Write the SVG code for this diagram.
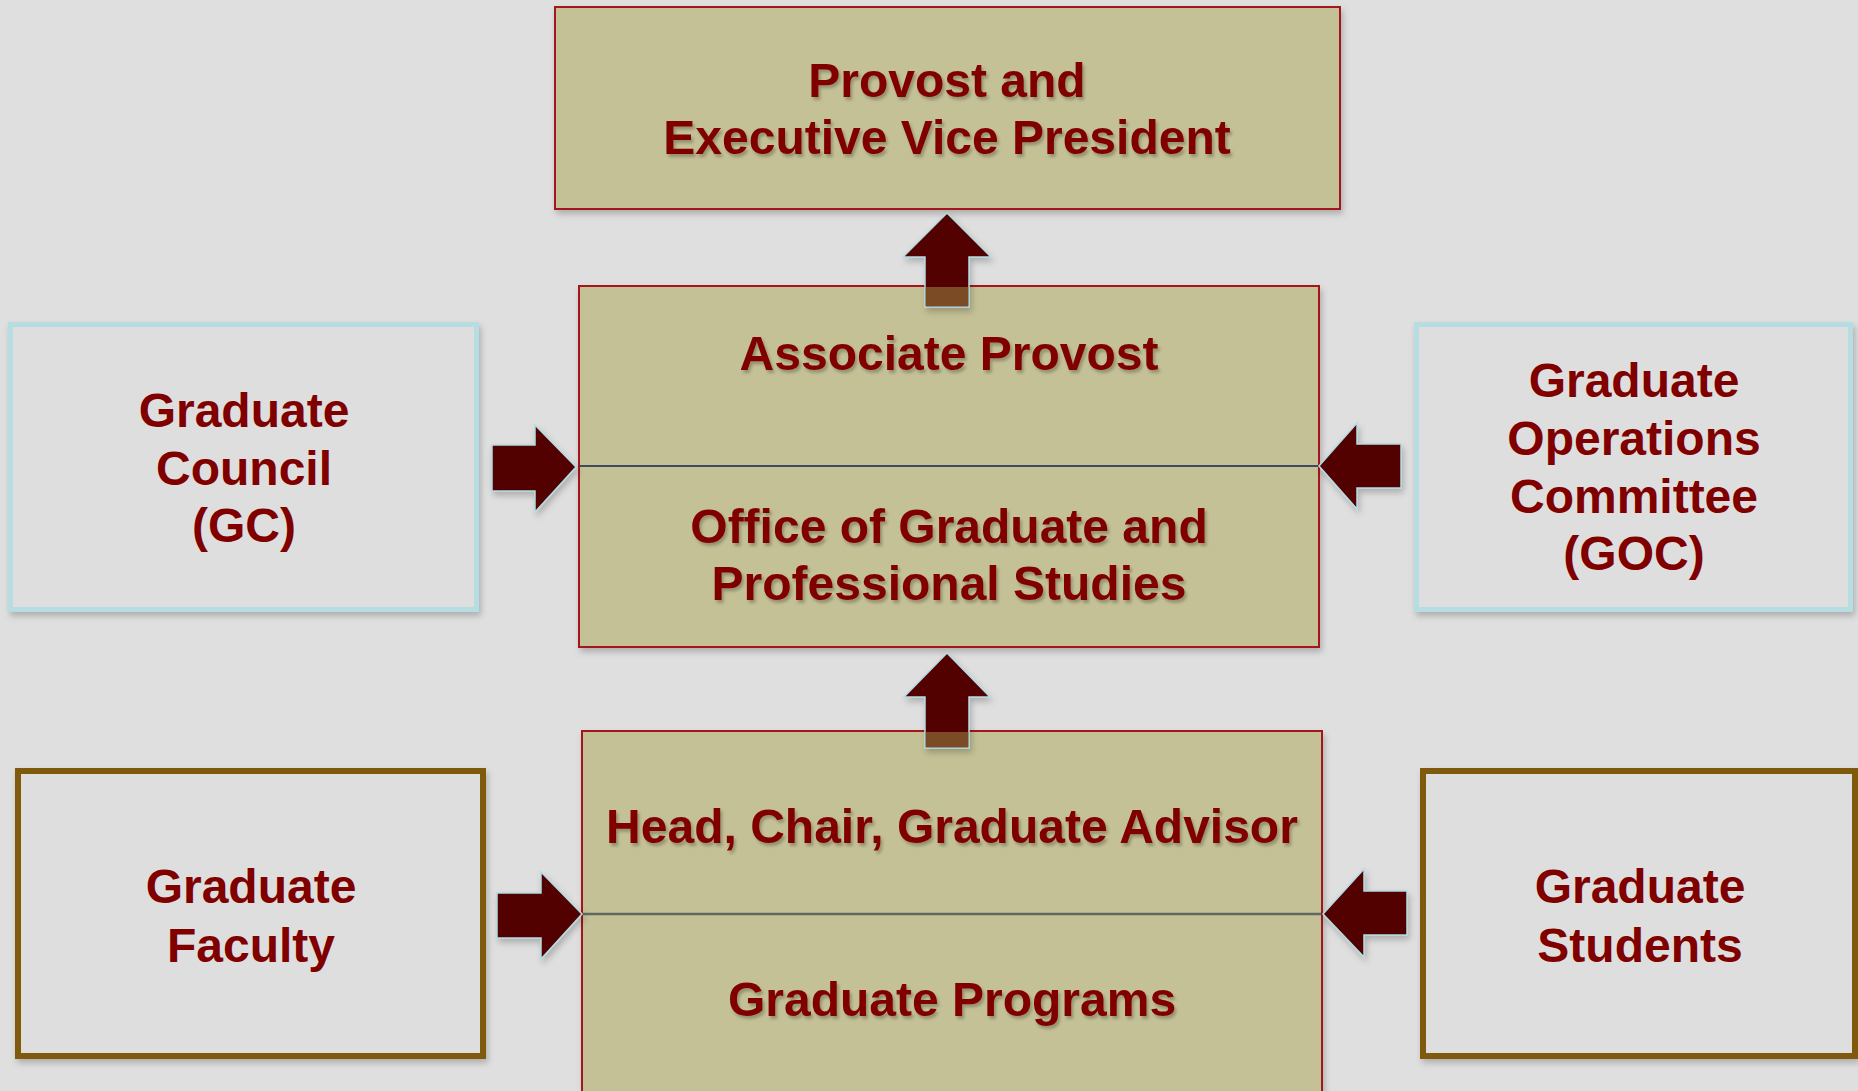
<svg xmlns="http://www.w3.org/2000/svg" width="1858" height="1091" viewBox="0 0 1858 1091">
<defs>
<filter id="sh" x="-10%" y="-10%" width="120%" height="125%">
<feDropShadow dx="2" dy="4" stdDeviation="3" flood-color="#000" flood-opacity="0.22"/>
</filter>
<filter id="tsh" x="-5%" y="-20%" width="110%" height="150%">
<feDropShadow dx="2" dy="3" stdDeviation="1.5" flood-color="#000" flood-opacity="0.25"/>
</filter>
<style>
.tan{fill:#c4c196;stroke:#a3161a;stroke-width:2}
.blue{fill:#dedede;stroke:#b6dde1;stroke-width:5}
.gold{fill:#dedede;stroke:#7f5a08;stroke-width:6}
.t{font-family:"Liberation Sans",Arial,sans-serif;font-weight:bold;font-size:48px;fill:#800000;text-anchor:middle}
.ts{filter:url(#tsh)}
.arr{fill:#520000;stroke:#b2dce2;stroke-width:1.5;stroke-linejoin:miter}
.ov{fill:#7a4b24}
.div1{stroke:#3b4c62;stroke-width:2}
.div2{stroke:#5f6762;stroke-width:2.5}
</style>
</defs>
<rect width="1858" height="1091" fill="#dfdfdf"/>

<g id="provost">
<rect class="tan" x="555" y="7" width="785" height="202" filter="url(#sh)"/>
<text class="t ts" x="947" y="97">Provost and</text>
<text class="t ts" x="947" y="154">Executive Vice President</text>
</g>

<g id="associate-provost">
<rect class="tan" x="579" y="286" width="740" height="361" filter="url(#sh)"/>
<line class="div1" x1="580" y1="466" x2="1318" y2="466"/>
<text class="t ts" x="949" y="370">Associate Provost</text>
<text class="t ts" x="949" y="543">Office of Graduate and</text>
<text class="t ts" x="949" y="600">Professional Studies</text>
</g>

<g id="head-chair">
<rect class="tan" x="582" y="731" width="740" height="380" filter="url(#sh)"/>
<line class="div2" x1="583" y1="914" x2="1321" y2="914"/>
<text class="t ts" x="952" y="843">Head, Chair, Graduate Advisor</text>
<text class="t ts" x="952" y="1016">Graduate Programs</text>
</g>

<g id="graduate-council">
<rect class="blue" x="10.5" y="324.5" width="466" height="285" filter="url(#sh)"/>
<text class="t" x="244" y="427">Graduate</text>
<text class="t" x="244" y="485">Council</text>
<text class="t" x="244" y="542">(GC)</text>
</g>

<g id="goc">
<rect class="blue" x="1416.5" y="324.5" width="434" height="285" filter="url(#sh)"/>
<text class="t" x="1634" y="397">Graduate</text>
<text class="t" x="1634" y="455">Operations</text>
<text class="t" x="1634" y="513">Committee</text>
<text class="t" x="1634" y="570">(GOC)</text>
</g>

<g id="graduate-faculty">
<rect class="gold" x="18" y="771" width="465" height="285" filter="url(#sh)"/>
<text class="t" x="251" y="903">Graduate</text>
<text class="t" x="251" y="962">Faculty</text>
</g>

<g id="graduate-students">
<rect class="gold" x="1423" y="771" width="432" height="285" filter="url(#sh)"/>
<text class="t" x="1640" y="903">Graduate</text>
<text class="t" x="1640" y="962">Students</text>
</g>

<g id="connectors">
<g filter="url(#sh)">
<polygon class="arr" points="947,213 991,257 969,257 969,307 925,307 925,257 903,257"/>
<polygon class="arr" points="947,653 990,697 969,697 969,748 925,748 925,697 904,697"/>
<polygon class="arr" points="576,467 535,425 535,445 492,445 492,491 535,491 535,512"/>
<polygon class="arr" points="582,914 541,872 541,893 497,893 497,938 541,938 541,959"/>
<polygon class="arr" points="1319,466 1357,423 1357,444 1401,444 1401,488 1357,488 1357,509"/>
<polygon class="arr" points="1323,914 1364,869 1364,891 1407,891 1407,935 1364,935 1364,957"/>
</g>
<rect class="ov" x="925.8" y="287" width="42.4" height="19.2"/>
<rect class="ov" x="925.8" y="732" width="42.4" height="15.2"/>
</g>
</svg>
